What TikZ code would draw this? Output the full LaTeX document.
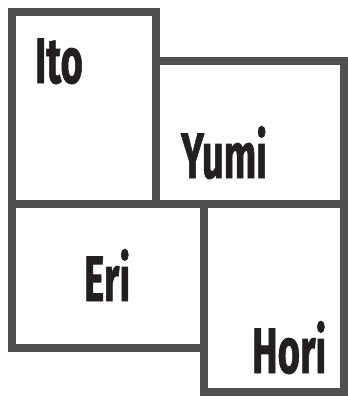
\documentclass[tikz,border=0pt]{standalone}
\usepackage{fontspec}
\setmainfont{Fira Sans}
\newfontfamily\lblfont[FakeBold=1.3]{Fira Sans Bold}
\definecolor{frame}{HTML}{505050}
\definecolor{ink}{HTML}{231F20}
\begin{document}
\begin{tikzpicture}[x=1pt,y=-1pt,
  room/.style={draw=frame,line width=7.5pt,line join=miter},
  lbl/.style={anchor=base west,inner sep=0pt,text=ink,font=\lblfont\fontsize{64}{64}\selectfont,xscale=0.6}]
\useasboundingbox (0,0) rectangle (348,397);
\draw[room] (12,12) rectangle (156,204);
\draw[room] (156,61) rectangle (344,204);
\draw[room] (12,204) rectangle (204,348);
\draw[room] (204,204) rectangle (344,392);
\node[lbl] (ito) at (35,83) {Ito};
\node[lbl] (yumi) at (181,178) {Yumi};
\node[lbl] (eri) at (84,301) {Eri};
\node[lbl] (hori) at (252,373) {Hori};
\end{tikzpicture}
\end{document}
